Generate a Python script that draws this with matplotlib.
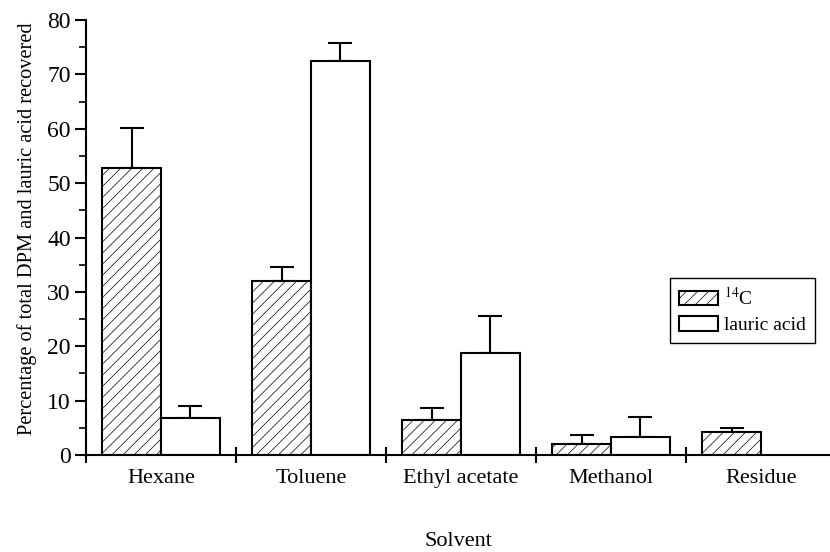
import matplotlib
matplotlib.use("Agg")
import matplotlib.pyplot as plt
import numpy as np
from matplotlib.patches import Patch

solvents = ["Hexane", "Toluene", "Ethyl acetate", "Methanol", "Residue"]
c14 = [52.8, 32.0, 6.5, 2.1, 4.3]
c14_err = [7.4, 2.5, 2.2, 1.6, 0.6]
lauric = [6.8, 72.5, 18.8, 3.3, 0.0]
lauric_err = [2.3, 3.3, 6.7, 3.6, 0.0]

plt.rcParams['font.family'] = ['Liberation Serif', 'DejaVu Serif']
plt.rcParams['mathtext.fontset'] = 'stix'
plt.rcParams['font.size'] = 17
plt.rcParams['hatch.linewidth'] = 0.5
plt.rcParams['hatch.color'] = '#333333'

fig = plt.figure(figsize=(8.3, 5.52), dpi=100)
ax = fig.add_axes([86 / 830, 1 - 455 / 552, 1 - 86 / 830, 435 / 552])

x = np.arange(len(solvents))
w = 0.393

ax.bar(x - w / 2, c14, w, color='white', edgecolor='black', hatch='///',
       linewidth=1.5, zorder=2)
ax.bar(x[:4] + w / 2, lauric[:4], w, color='white', edgecolor='black',
       linewidth=1.5, zorder=2)
ax.errorbar(x - w / 2, c14, yerr=[np.zeros(5), c14_err], fmt='none',
            ecolor='black', elinewidth=1.5, capsize=8.5, capthick=1.5, zorder=1)
ax.errorbar(x[:4] + w / 2, lauric[:4], yerr=[np.zeros(4), lauric_err[:4]],
            fmt='none', ecolor='black', elinewidth=1.5, capsize=8.5,
            capthick=1.5, zorder=1)

ax.set_xlim(-0.5, 4.46)
ax.set_ylim(0, 80)
ax.spines['top'].set_visible(False)
ax.spines['right'].set_visible(False)
ax.spines['left'].set_linewidth(1.5)
ax.spines['bottom'].set_linewidth(1.5)

ax.set_yticks(np.arange(0, 81, 10))
ax.set_yticks(np.arange(0, 81, 5), minor=True)
ax.tick_params(axis='y', which='major', direction='out', length=8, width=1.5,
               labelsize=17, pad=3)
ax.tick_params(axis='y', which='minor', direction='out', length=5, width=1.2)

ax.set_xticks(x)
ax.set_xticklabels(solvents)
ax.tick_params(axis='x', which='major', length=0, pad=10, labelsize=16)
ax.set_xticks(np.arange(-0.5, 4.0, 1.0), minor=True)
ax.tick_params(axis='x', which='minor', direction='inout', length=12, width=1.5)

ax.set_xlabel("Solvent", labelpad=32, fontsize=16)
ax.set_ylabel("Percentage of total DPM and lauric acid recovered", fontsize=14.7)
ax.yaxis.set_label_coords(-0.066, 0.52)

handles = [Patch(facecolor='white', edgecolor='black', hatch='///', linewidth=1.5),
           Patch(facecolor='white', edgecolor='black', linewidth=1.5)]
leg = ax.legend(handles, ["$^{14}$C", "lauric acid"], loc='upper left',
                bbox_to_anchor=((670 - 86) / 744, (455 - 278) / 435),
                fancybox=False, edgecolor='black', framealpha=1,
                borderpad=0.45, handlelength=2.0, handleheight=0.75,
                handletextpad=0.35, labelspacing=0.4, fontsize=14,
                borderaxespad=0)
leg.get_frame().set_linewidth(1.0)

fig.savefig("out.png", dpi=100)
